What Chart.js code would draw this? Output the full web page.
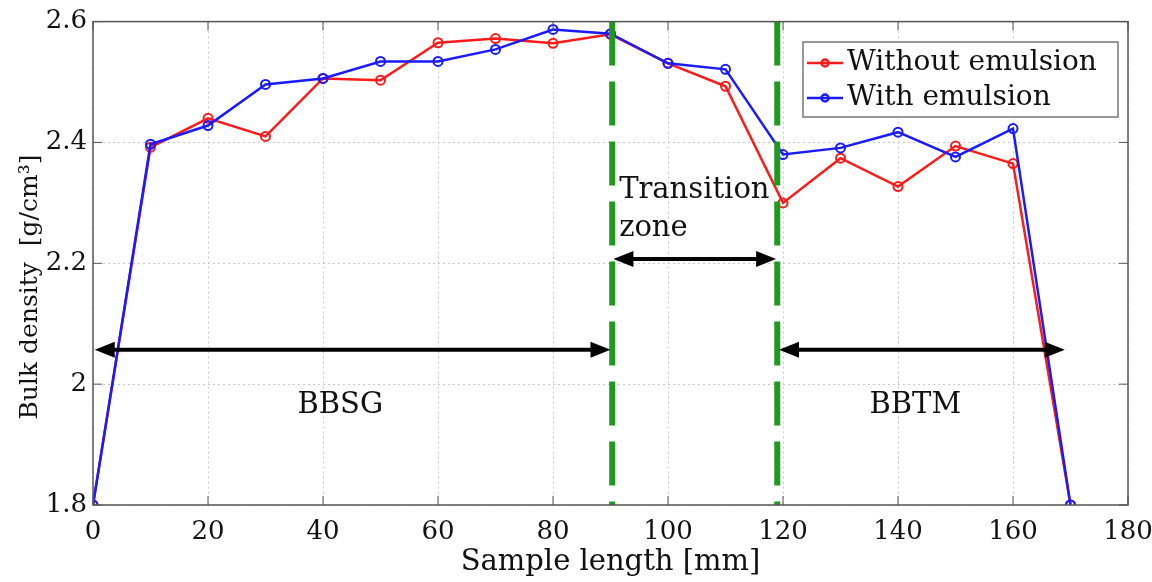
<!DOCTYPE html>
<html>
<head>
<meta charset="utf-8">
<script src="https://cdn.jsdelivr.net/npm/chart.js@4"></script>
<style>
  html, body { margin: 0; padding: 0; background: #fff; }
  #wrap { width: 1152px; height: 582px; }
</style>
</head>
<body>
<div id="wrap"><canvas id="densityChart" width="1152" height="582"></canvas></div>
<script>
// sample positions [mm]
const positions = [0, 10, 20, 30, 40, 50, 60, 70, 80, 90, 100, 110, 120, 130, 140, 150, 160, 170];
const withoutEmulsion = [1.8, 2.392, 2.44, 2.41, 2.506, 2.503, 2.565, 2.572, 2.564, 2.579, 2.531, 2.493, 2.30, 2.374, 2.327, 2.394, 2.365, 1.8];
const withEmulsion = [1.8, 2.397, 2.428, 2.496, 2.506, 2.534, 2.534, 2.554, 2.587, 2.58, 2.531, 2.521, 2.38, 2.391, 2.417, 2.376, 2.423, 1.8];

const seriesNames = ["Without emulsion", "With emulsion"];
const seriesColors = ["#ff1a1a", "#1a1aff"];

// zone boundaries and annotations (data coordinates)
const zoneBounds = [90.3, 119];
const zoneArrows = [
  { x1: 0.3, x2: 90, y: 2.057 },
  { x1: 90.5, x2: 118.8, y: 2.207 },
  { x1: 119.3, x2: 169, y: 2.057 }
];
const zoneLabels = [
  { text: "BBSG", x: 43, y: 1.965, align: "center" },
  { text: "BBTM", x: 143, y: 1.965, align: "center" },
  { text: "Transition", x: 91.5, y: 2.32, align: "left" },
  { text: "zone", x: 91.5, y: 2.257, align: "left" }
];

const serif = "'DejaVu Serif', 'Liberation Serif', serif";

function arrowHead(ctx, x, y, dir) {
  const len = 20, half = 8;
  ctx.beginPath();
  ctx.moveTo(x, y);
  ctx.lineTo(x - dir * len, y - half);
  ctx.lineTo(x - dir * len, y + half);
  ctx.closePath();
  ctx.fill();
}

const overlay = {
  id: "overlay",
  afterDatasetsDraw(chart) {
    const { ctx, chartArea: a, scales: { x, y } } = chart;
    ctx.save();

    // green zone boundaries
    ctx.strokeStyle = "#1f9a1f";
    ctx.lineWidth = 6;
    ctx.setLineDash([44, 16]);
    zoneBounds.forEach(b => {
      const px = x.getPixelForValue(b);
      ctx.beginPath();
      ctx.moveTo(px, a.top);
      ctx.lineTo(px, a.bottom);
      ctx.stroke();
    });
    ctx.setLineDash([]);

    // double arrows
    ctx.strokeStyle = "#000";
    ctx.fillStyle = "#000";
    ctx.lineWidth = 4;
    zoneArrows.forEach(ar => {
      const x1 = x.getPixelForValue(ar.x1), x2 = x.getPixelForValue(ar.x2);
      const py = y.getPixelForValue(ar.y);
      ctx.beginPath();
      ctx.moveTo(x1 + 10, py);
      ctx.lineTo(x2 - 10, py);
      ctx.stroke();
      arrowHead(ctx, x1, py, -1);
      arrowHead(ctx, x2, py, 1);
    });

    // zone labels
    ctx.font = "29px " + serif;
    ctx.textBaseline = "middle";
    ctx.fillStyle = "#111";
    zoneLabels.forEach(l => {
      ctx.textAlign = l.align;
      ctx.fillText(l.text, x.getPixelForValue(l.x), y.getPixelForValue(l.y));
    });

    // legend box
    const lx = 803, ly = 42, lw = 315, lh = 75;
    ctx.fillStyle = "#fff";
    ctx.fillRect(lx, ly, lw, lh);
    ctx.strokeStyle = "#777";
    ctx.lineWidth = 1.5;
    ctx.strokeRect(lx, ly, lw, lh);
    ctx.font = "28px " + serif;
    ctx.textAlign = "left";
    seriesNames.forEach((name, i) => {
      const ry = ly + 21 + i * 35;
      ctx.strokeStyle = seriesColors[i];
      ctx.lineWidth = 2.5;
      ctx.beginPath();
      ctx.moveTo(807, ry);
      ctx.lineTo(843, ry);
      ctx.stroke();
      ctx.beginPath();
      ctx.arc(825, ry, 3.5, 0, Math.PI * 2);
      ctx.stroke();
      ctx.fillStyle = "#111";
      ctx.fillText(name, 847, ry);
    });

    // axes box
    ctx.strokeStyle = "#555";
    ctx.lineWidth = 1.5;
    ctx.strokeRect(a.left, a.top, a.right - a.left, a.bottom - a.top);

    // inward ticks (matlab style)
    ctx.lineWidth = 1;
    x.ticks.forEach(t => {
      const px = x.getPixelForValue(t.value);
      ctx.beginPath();
      ctx.moveTo(px, a.bottom); ctx.lineTo(px, a.bottom - 9);
      ctx.moveTo(px, a.top); ctx.lineTo(px, a.top + 9);
      ctx.stroke();
    });
    y.ticks.forEach(t => {
      const py = y.getPixelForValue(t.value);
      ctx.beginPath();
      ctx.moveTo(a.left, py); ctx.lineTo(a.left + 9, py);
      ctx.moveTo(a.right, py); ctx.lineTo(a.right - 9, py);
      ctx.stroke();
    });

    // y axis title
    ctx.save();
    ctx.translate(30, 287);
    ctx.rotate(-Math.PI / 2);
    ctx.fillStyle = "#111";
    ctx.textAlign = "center";
    ctx.font = "25px " + serif;
    ctx.fillText("Bulk density  [g/cm\u00B3]", 0, 0);
    ctx.restore();

    ctx.restore();
  }
};

new Chart(document.getElementById("densityChart"), {
  type: "line",
  data: {
    labels: positions,
    datasets: [
      {
        label: seriesNames[0],
        data: positions.map((p, i) => ({ x: p, y: withoutEmulsion[i] })),
        borderColor: seriesColors[0],
        backgroundColor: "rgba(0,0,0,0)",
        borderWidth: 2.5,
        pointRadius: 4.5,
        pointBorderWidth: 2,
        pointBackgroundColor: "rgba(0,0,0,0)",
        pointBorderColor: seriesColors[0],
        order: 1
      },
      {
        label: seriesNames[1],
        data: positions.map((p, i) => ({ x: p, y: withEmulsion[i] })),
        borderColor: seriesColors[1],
        backgroundColor: "rgba(0,0,0,0)",
        borderWidth: 2.5,
        pointRadius: 4.5,
        pointBorderWidth: 2,
        pointBackgroundColor: "rgba(0,0,0,0)",
        pointBorderColor: seriesColors[1],
        order: 0
      }
    ]
  },
  options: {
    responsive: false,
    animation: false,
    layout: { padding: { top: 20, right: 0, left: 0, bottom: 0 } },
    plugins: { legend: { display: false }, tooltip: { enabled: false } },
    scales: {
      x: {
        type: "linear",
        min: 0, max: 180,
        ticks: { stepSize: 20, color: "#111", font: { family: serif, size: 26 }, padding: 12, maxRotation: 0 },
        grid: { color: "#c8c8c8", lineWidth: 1, tickLength: 0 },
        border: { display: false, dash: [2, 3] },
        title: { display: true, text: "Sample length [mm]", color: "#111", font: { family: serif, size: 29 }, padding: { top: 0, bottom: 2 } },
        afterFit: s => { s.height = 77; s.paddingRight = 24; }
      },
      y: {
        min: 1.8, max: 2.6,
        ticks: {
          stepSize: 0.2, color: "#111", font: { family: serif, size: 26 }, padding: 6,
          callback: v => String(Number(v.toFixed(1)))
        },
        grid: { color: "#c8c8c8", lineWidth: 1, tickLength: 0 },
        border: { display: false, dash: [2, 3] },
        afterFit: s => { s.width = 93; }
      }
    }
  },
  plugins: [overlay]
});
</script>
</body>
</html>
